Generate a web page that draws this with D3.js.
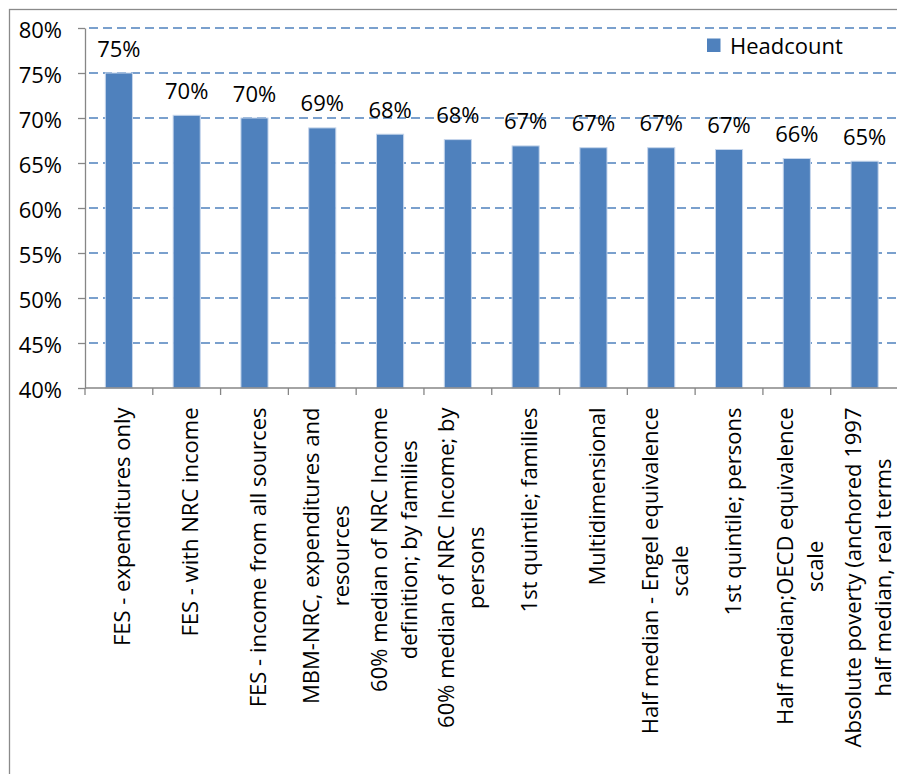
<!DOCTYPE html>
<html>
<head>
<meta charset="utf-8">
<script src="https://cdn.jsdelivr.net/npm/d3@7"></script>
<style>
  body { margin: 0; background: #fff; }
  svg text { font-family: "Open Sans", sans-serif; fill: #000; }
</style>
</head>
<body>
<svg id="chart" width="897" height="774"></svg>
<script>
// Poverty measures (category labels, one entry per wrapped line)
const categories = [
  ["FES - expenditures only"],
  ["FES - with NRC income"],
  ["FES - income from all sources"],
  ["MBM-NRC, expenditures and", "resources"],
  ["60% median of NRC Income", "definition; by families"],
  ["60% median of NRC Income; by", "persons"],
  ["1st quintile; families"],
  ["Multidimensional"],
  ["Half median - Engel equivalence", "scale"],
  ["1st quintile; persons"],
  ["Half median;OECD equivalence", "scale"],
  ["Absolute poverty (anchored 1997", "half median, real terms"]
];

// Headcount ratio, percent
const headcount = [75.0, 70.3, 70.0, 68.9, 68.2, 67.6, 66.9, 66.7, 66.7, 66.5, 65.5, 65.2];

const yTickValues = [40, 45, 50, 55, 60, 65, 70, 75, 80];
const seriesName = "Headcount";

const barColor = "#4f81bd";
const axisColor = "#868686";
const fontSize = 22;

const svg = d3.select("#chart");

// Outer chart frame
svg.append("rect")
  .attr("x", 9.5).attr("y", 9.5)
  .attr("width", 950).attr("height", 850)
  .attr("fill", "#fff")
  .attr("stroke", "#8a8a8a")
  .attr("stroke-width", 1.3);

const plot = { left: 85, right: 898.5, top: 28, bottom: 388 };

const x = d3.scaleBand()
  .domain(d3.range(categories.length))
  .range([plot.left, plot.right])
  .paddingInner(0.6)
  .paddingOuter(0.3);

const y = d3.scaleLinear()
  .domain([40, 80])
  .range([plot.bottom, plot.top]);

// Dashed horizontal gridlines
svg.append("g")
  .selectAll("line")
  .data(yTickValues.filter(d => d > 40))
  .join("line")
  .attr("x1", plot.left + 4)
  .attr("x2", 897)
  .attr("y1", d => y(d))
  .attr("y2", d => y(d))
  .attr("stroke", barColor)
  .attr("stroke-width", 1.3)
  .attr("stroke-dasharray", "9,5");

// Bars
svg.append("g")
  .selectAll("rect")
  .data(headcount)
  .join("rect")
  .attr("x", (d, i) => x(i))
  .attr("y", d => y(d))
  .attr("width", x.bandwidth())
  .attr("height", d => y(40) - y(d))
  .attr("fill", barColor)
  .attr("stroke", "#c6d6ec")
  .attr("stroke-width", 1);

// Value labels above bars
svg.append("g")
  .selectAll("text")
  .data(headcount)
  .join("text")
  .attr("x", (d, i) => x(i) + x.bandwidth() / 2)
  .attr("y", d => y(d) - 16.5)
  .attr("text-anchor", "middle")
  .attr("font-size", fontSize)
  .text(d => Math.round(d) + "%");

// Y axis
const yAxis = svg.append("g")
  .attr("transform", `translate(${plot.left},0)`)
  .call(d3.axisLeft(y)
    .tickValues(yTickValues)
    .tickSize(7)
    .tickSizeOuter(0)
    .tickPadding(16)
    .tickFormat(d => d + "%"));
yAxis.select(".domain").attr("stroke", axisColor).attr("stroke-width", 1.3);
yAxis.selectAll(".tick line").attr("stroke", axisColor).attr("stroke-width", 1.3);
yAxis.selectAll(".tick text")
  .attr("font-size", fontSize)
  .attr("font-family", "Open Sans, sans-serif")
  .attr("fill", "#000")
  .attr("dy", "0.45em");

// X axis: baseline with ticks at category boundaries
const step = x.step();
const boundaries = d3.range(categories.length + 1)
  .map(i => plot.left + i * step);
const xAxis = svg.append("g");
xAxis.append("line")
  .attr("x1", plot.left).attr("x2", plot.right)
  .attr("y1", plot.bottom).attr("y2", plot.bottom)
  .attr("stroke", axisColor).attr("stroke-width", 1.3);
xAxis.selectAll("line.tick")
  .data(boundaries)
  .join("line")
  .attr("class", "tick")
  .attr("x1", d => d).attr("x2", d => d)
  .attr("y1", plot.bottom).attr("y2", plot.bottom + 7)
  .attr("stroke", axisColor).attr("stroke-width", 1.3);

// Rotated, wrapped category labels; block top aligned, lines centred
const lineHeight = 30;
const labelTop = 407.5;
const labelGroups = svg.append("g")
  .selectAll("g")
  .data(categories)
  .join("g")
  .attr("transform", (d, i) => `translate(${x(i) + x.bandwidth() / 2},0) rotate(-90)`);

labelGroups.each(function (lines) {
  const g = d3.select(this);
  const texts = g.selectAll("text")
    .data(lines)
    .join("text")
    .attr("font-size", fontSize)
    .attr("text-anchor", "middle")
    .attr("y", (d, j) => (j - (lines.length - 1) / 2) * lineHeight + 11.5)
    .text(d => d);
  let maxLen = 0;
  texts.each(function () { maxLen = Math.max(maxLen, this.getComputedTextLength()); });
  texts.attr("x", -(labelTop + maxLen / 2));
});

// Legend
const legend = svg.append("g");
legend.append("rect")
  .attr("x", 707).attr("y", 38.5)
  .attr("width", 13.5).attr("height", 13.5)
  .attr("fill", barColor);
legend.append("text")
  .attr("x", 730)
  .attr("y", 54)
  .attr("font-size", fontSize)
  .text(seriesName);
</script>
</body>
</html>
